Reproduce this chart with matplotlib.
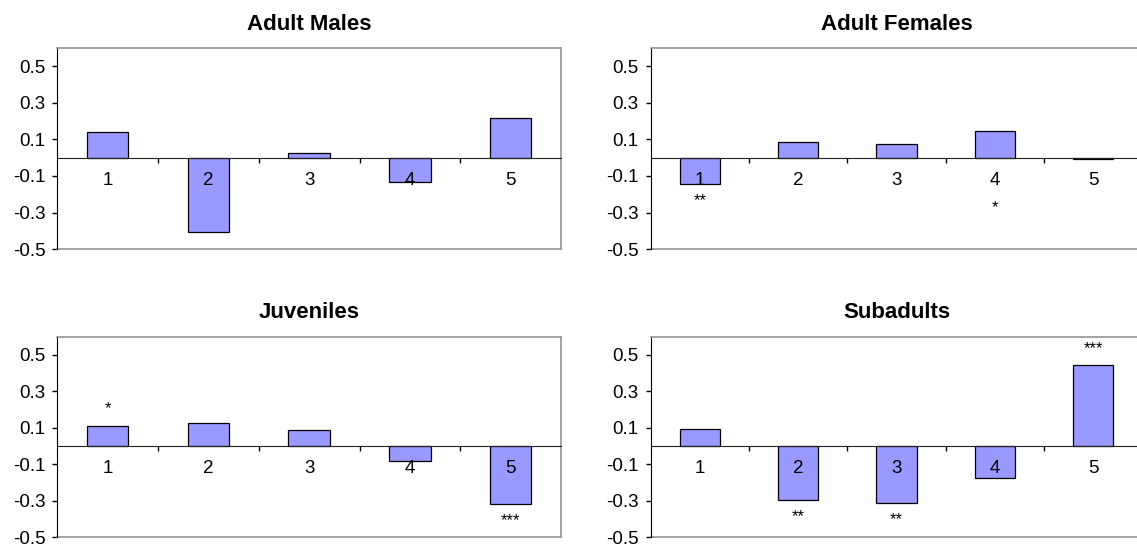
import matplotlib
matplotlib.use('Agg')
import matplotlib.pyplot as plt
from matplotlib.ticker import FixedLocator

plt.rcParams['font.family'] = ['Liberation Sans', 'DejaVu Sans']

# data
categories = [1, 2, 3, 4, 5]
boundaries = [1.5, 2.5, 3.5, 4.5]
titles = ['Adult Males', 'Adult Females', 'Juveniles', 'Subadults']

adult_males = [0.140, -0.405, 0.025, -0.133, 0.216]
adult_females = [-0.146, 0.088, 0.075, 0.146, -0.005]
juveniles = [0.112, 0.125, 0.086, -0.081, -0.320]
subadults = [0.093, -0.294, -0.314, -0.173, 0.442]

sig_males = ['', '', '', '', '']
sig_females = ['**', '', '', '*', '']
sig_juveniles = ['*', '', '', '', '***']
sig_subadults = ['', '**', '**', '', '***']

# this one star sits under the category label in the original
star_under_label = {('Adult Females', 4)}

yticks = [-0.5, -0.3, -0.1, 0.1, 0.3, 0.5]
ylim = (-0.5, 0.6)

bar_color = '#9999ff'
frame_color = '#939393'

values = [adult_males, adult_females, juveniles, subadults]
sigs = [sig_males, sig_females, sig_juveniles, sig_subadults]

fig = plt.figure(figsize=(11.37, 5.49), dpi=100)
boxes = [
    [0.0504, 0.546, 0.443, 0.367],
    [0.5723, 0.546, 0.4323, 0.367],
    [0.0504, 0.0213, 0.443, 0.3657],
    [0.5723, 0.0213, 0.4323, 0.3657],
]

for box, title, vals, sig in zip(boxes, titles, values, sigs):
    ax = fig.add_axes(box)
    ax.bar(categories, vals, width=0.41, color=bar_color,
           edgecolor='black', linewidth=0.9, zorder=1)

    ax.set_xlim(0.5, 5.5)
    ax.set_ylim(ylim)

    # frame: black left axis, grey box, x axis through zero
    ax.spines['bottom'].set_position(('data', 0))
    ax.spines['bottom'].set_color('#222222')
    ax.spines['left'].set_color('black')
    for side in ['top', 'right']:
        ax.spines[side].set_color(frame_color)
        ax.spines[side].set_linewidth(1.2)
    ax.axhline(ylim[0], color=frame_color, lw=1.2, clip_on=False)

    ax.set_yticks(yticks)
    ax.set_yticklabels([f'{t:.1f}' for t in yticks])
    ax.tick_params(axis='y', length=3.6, width=1, pad=5, labelsize=13.5)

    ax.set_xticks(categories)
    ax.set_xticklabels([str(c) for c in categories])
    ax.tick_params(axis='x', which='major', length=0, pad=10, labelsize=13.5)
    ax.xaxis.set_minor_locator(FixedLocator(boundaries))
    ax.tick_params(axis='x', which='minor', length=3.6, width=1,
                   direction='out')

    ax.set_title(title, fontsize=16, fontweight='bold', pad=13)

    for c, v, s in zip(categories, vals, sig):
        if not s:
            continue
        if (title, c) in star_under_label:
            xy, dy = (c, 0), -54
        elif v < 0:
            xy, dy = (c, v), -21
        else:
            xy, dy = (c, v), 12
        ax.annotate(s, xy=xy, xytext=(0, dy), textcoords='offset pixels',
                    ha='center', va='baseline', fontsize=12)

fig.savefig('out.png', dpi=100)
